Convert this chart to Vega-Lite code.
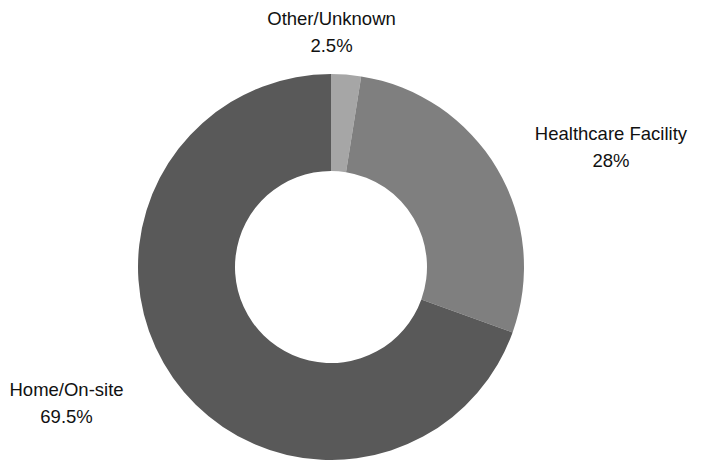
{
  "$schema": "https://vega.github.io/schema/vega-lite/v6.json",
  "width": 386,
  "height": 386,
  "autosize": "none",
  "padding": {"left": 138, "top": 74, "right": 182, "bottom": 0},
  "background": "white",
  "view": {"stroke": null},
  "data": {"values": [
    {"category": "Other/Unknown", "value": 2.5, "rank": 1},
    {"category": "Healthcare Facility", "value": 28, "rank": 2},
    {"category": "Home/On-site", "value": 69.5, "rank": 3}
  ]},
  "transform": [{"calculate": "datum.category + '\\n' + datum.value + '%'", "as": "label"}],
  "encoding": {
    "theta": {"field": "value", "type": "quantitative", "stack": true},
    "order": {"field": "rank", "type": "quantitative"}
  },
  "layer": [
    {
      "mark": {"type": "arc", "innerRadius": 96, "outerRadius": 193},
      "encoding": {
        "color": {"field": "category", "type": "nominal",
          "scale": {"domain": ["Other/Unknown", "Healthcare Facility", "Home/On-site"], "range": ["#a6a6a6", "#7f7f7f", "#595959"]},
          "legend": null}
      }
    },
    {
      "mark": {"type": "text", "radius": 236, "dx": -18, "dy": -13, "lineBreak": "\n", "fontSize": 18.5, "font": "Liberation Sans", "lineHeight": 27, "color": "#111111"},
      "encoding": {
        "text": {"field": "label", "type": "nominal"},
        "opacity": {"condition": {"test": "datum.category === 'Other/Unknown'", "value": 1}, "value": 0}
      }
    },
    {
      "mark": {"type": "text", "radius": 302, "dx": 20, "dy": 21, "lineBreak": "\n", "fontSize": 18.5, "font": "Liberation Sans", "lineHeight": 27, "color": "#111111"},
      "encoding": {
        "text": {"field": "label", "type": "nominal"},
        "opacity": {"condition": {"test": "datum.category === 'Healthcare Facility'", "value": 1}, "value": 0}
      }
    },
    {
      "mark": {"type": "text", "radius": 300, "dx": -19, "dy": -50, "lineBreak": "\n", "fontSize": 18.5, "font": "Liberation Sans", "lineHeight": 27, "color": "#111111"},
      "encoding": {
        "text": {"field": "label", "type": "nominal"},
        "opacity": {"condition": {"test": "datum.category === 'Home/On-site'", "value": 1}, "value": 0}
      }
    }
  ]
}
